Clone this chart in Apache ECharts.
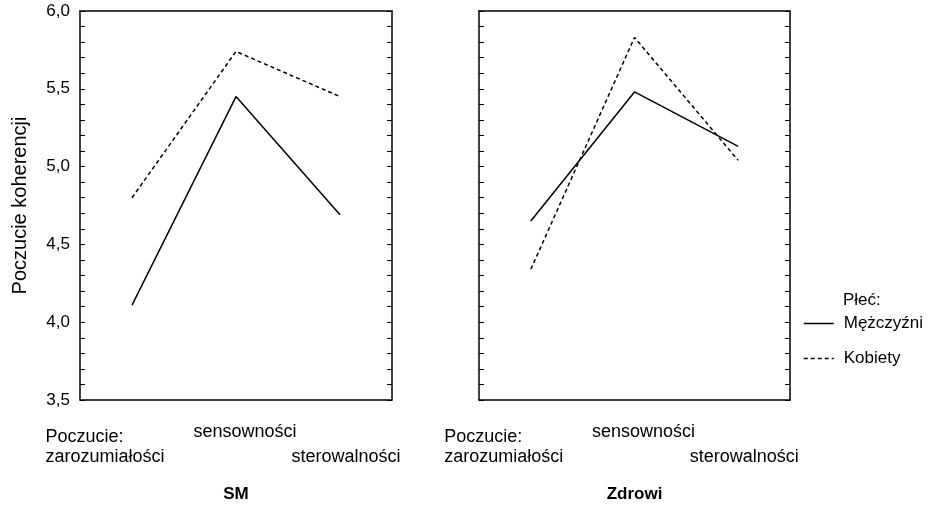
<!DOCTYPE html>
<html>
<head>
<meta charset="utf-8">
<script src="https://cdn.jsdelivr.net/npm/echarts@6/dist/echarts.min.js"></script>
<style>
  html, body { margin: 0; padding: 0; background: #fff; }
  #main { width: 937px; height: 508px; }
</style>
</head>
<body>
<div id="main"></div>
<script>
  // dane z wykresu
  var categories = ['Poczucie:\nzarozumiałości', 'sensowności', 'sterowalności'];
  var groups = ['SM', 'Zdrowi'];
  var seriesNames = ['Mężczyźni', 'Kobiety'];
  var menSM = [4.11, 5.45, 4.69];
  var womenSM = [4.80, 5.74, 5.45];
  var menZdrowi = [4.65, 5.48, 5.13];
  var womenZdrowi = [4.34, 5.83, 5.04];
  var yMin = 3.5, yMax = 6.0, yStep = 0.5;

  var font = "'Liberation Sans', Arial, sans-serif";
  var black = '#000';

  // przesuniecia etykiet kategorii (jak w oryginale)
  var labelPad = [[5, 54, 0, 0], [0, 0, 0, 18], [25, 0, 0, 12]];
  var catData = categories.map(function (c, i) {
    return { value: c, textStyle: { padding: labelPad[i] } };
  });

  var grids = [
    { left: 80, top: 11, width: 312, height: 389 },
    { left: 479, top: 11, width: 311, height: 389 }
  ];

  var xAxes = [], yAxes = [];
  groups.forEach(function (g, gi) {
    xAxes.push({
      type: 'category', gridIndex: gi, position: 'bottom',
      data: catData, boundaryGap: true,
      name: g, nameLocation: 'middle', nameGap: 86,
      nameTextStyle: { fontFamily: font, fontSize: 17, fontWeight: 'bold', color: black },
      axisLine: { lineStyle: { color: black, width: 1.5 } },
      axisTick: { inside: true, alignWithLabel: true, length: 5, lineStyle: { color: black } },
      axisLabel: {
        interval: 0, margin: 22, fontFamily: font, fontSize: 18, color: black,
        lineHeight: 20, verticalAlign: 'top',
        formatter: function (v) {
          return v.split('\n').map(function (s) { return '{a|' + s + '}'; }).join('\n');
        },
        rich: { a: { align: 'left', fontFamily: font, fontSize: 18, color: black, lineHeight: 20 } }
      }
    });
    xAxes.push({
      type: 'category', gridIndex: gi, position: 'top',
      data: categories, boundaryGap: true,
      axisLine: { lineStyle: { color: black, width: 1.5 } },
      axisTick: { inside: true, alignWithLabel: true, length: 4, lineStyle: { color: black } },
      axisLabel: { show: false }
    });
    yAxes.push({
      type: 'value', gridIndex: gi, position: 'left',
      min: yMin, max: yMax, interval: yStep,
      name: gi === 0 ? 'Poczucie koherencji' : '',
      nameLocation: 'middle', nameGap: 50, nameRotate: 90,
      nameTextStyle: { fontFamily: font, fontSize: 20, color: black },
      axisLine: { show: true, lineStyle: { color: black, width: 1.5 } },
      axisTick: { show: true, inside: true, length: 5, lineStyle: { color: black } },
      minorTick: { show: true, splitNumber: 5, length: 5, lineStyle: { color: black } },
      splitLine: { show: false },
      axisLabel: {
        show: gi === 0, margin: 10, fontFamily: font, fontSize: 17, color: black,
        formatter: function (v) { return v.toFixed(1).replace('.', ','); }
      }
    });
    yAxes.push({
      type: 'value', gridIndex: gi, position: 'right',
      min: yMin, max: yMax, interval: yStep,
      axisLine: { show: true, lineStyle: { color: black, width: 1.5 } },
      axisTick: { show: true, inside: true, length: 5, lineStyle: { color: black } },
      minorTick: { show: true, splitNumber: 5, length: 5, lineStyle: { color: black } },
      splitLine: { show: false },
      axisLabel: { show: false }
    });
  });

  var lineMen = { color: black, width: 1.5, type: 'solid' };
  var lineWomen = { color: black, width: 1.5, type: [4, 3] };

  function mkSeries(name, data, gi, style) {
    return {
      name: name, type: 'line', data: data,
      xAxisIndex: gi * 2, yAxisIndex: gi * 2,
      symbol: 'none', silent: true,
      itemStyle: { color: black },
      lineStyle: style
    };
  }

  var chart = echarts.init(document.getElementById('main'), null, { renderer: 'canvas' });
  chart.setOption({
    animation: false,
    backgroundColor: '#fff',
    title: {
      text: 'Płeć:', left: 838, top: 287,
      textStyle: { fontFamily: font, fontSize: 17, fontWeight: 'normal', color: black }
    },
    legend: {
      data: seriesNames, orient: 'vertical', left: 798, top: 310,
      itemWidth: 30, itemHeight: 14, itemGap: 18,
      itemStyle: { opacity: 0 },
      lineStyle: { width: 1.5 },
      textStyle: { fontFamily: font, fontSize: 17, color: black, padding: [0, 0, 0, 5] },
      selectedMode: false
    },
    grid: grids,
    xAxis: xAxes,
    yAxis: yAxes,
    series: [
      mkSeries(seriesNames[0], menSM, 0, lineMen),
      mkSeries(seriesNames[1], womenSM, 0, lineWomen),
      mkSeries(seriesNames[0], menZdrowi, 1, lineMen),
      mkSeries(seriesNames[1], womenZdrowi, 1, lineWomen)
    ]
  });
</script>
</body>
</html>
